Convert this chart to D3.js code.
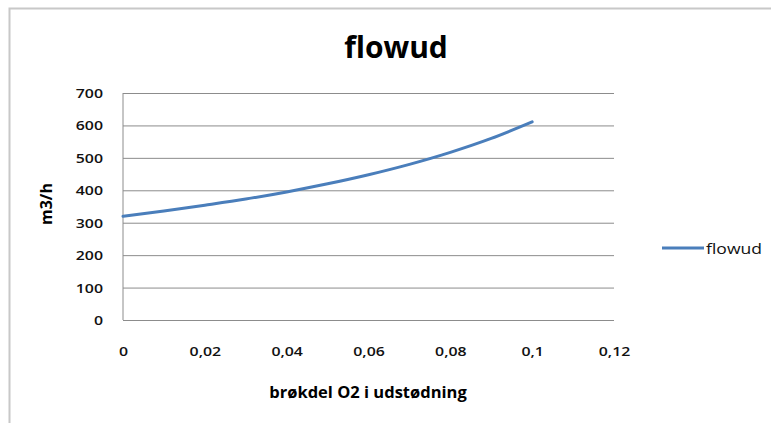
<!DOCTYPE html>
<html>
<head>
<meta charset="utf-8">
<script src="https://cdn.jsdelivr.net/npm/d3@7"></script>
<style>
  html, body { margin: 0; padding: 0; background: #fff; }
  svg { display: block; }
  text { font-family: "Open Sans", "Liberation Sans", sans-serif; }
</style>
</head>
<body>
<svg id="chart" width="771" height="423"></svg>
<script>
// ---- data ----
const chartTitle = "flowud";
const xAxisTitle = "brøkdel O2 i udstødning";
const yAxisTitle = "m3/h";
const seriesName = "flowud";
const xValues = [0, 0.01, 0.02, 0.03, 0.04, 0.05, 0.06, 0.07, 0.08, 0.09, 0.1];
const yValues = [320, 336, 354, 373, 395, 420, 448, 480, 517, 560, 611];
const xTicks = [0, 0.02, 0.04, 0.06, 0.08, 0.1, 0.12];
const yTicks = [0, 100, 200, 300, 400, 500, 600, 700];

// ---- layout ----
const W = 771, H = 423;
const plot = { left: 123, right: 614, top: 93, bottom: 320 };
const svg = d3.select("#chart");

// outer chart border
svg.append("rect")
  .attr("x", 9.5).attr("y", 8.5)
  .attr("width", W + 10).attr("height", H + 10)
  .attr("fill", "#fff").attr("stroke", "#c8c8c8").attr("stroke-width", 2);

const x = d3.scaleLinear().domain([0, 0.12]).range([plot.left, plot.right]);
const y = d3.scaleLinear().domain([0, 700]).range([plot.bottom, plot.top]);

// stretch helper: widen text horizontally like the reference
function stretch(sel, f) {
  sel.each(function () {
    const len = this.getComputedTextLength();
    d3.select(this).attr("textLength", len * f).attr("lengthAdjust", "spacingAndGlyphs");
  });
}

// gridlines
const yAxisG = svg.append("g")
  .attr("transform", `translate(${plot.left},0)`)
  .call(d3.axisLeft(y).tickValues(yTicks).tickSize(-(plot.right - plot.left)).tickPadding(20)
    .tickFormat(d => d));
yAxisG.select(".domain").remove();
yAxisG.selectAll(".tick line").attr("stroke", "#8c8c8c").attr("stroke-width", 1);
yAxisG.selectAll(".tick text")
  .attr("font-size", 13).attr("font-weight", 600).attr("fill", "#111").attr("dy", "0.35em");
stretch(yAxisG.selectAll(".tick text"), 1.22);

// left axis line
svg.append("line")
  .attr("x1", plot.left).attr("x2", plot.left)
  .attr("y1", plot.top).attr("y2", plot.bottom)
  .attr("stroke", "#8c8c8c").attr("stroke-width", 1);

// x axis labels (no tick marks)
const xAxisG = svg.append("g")
  .attr("transform", `translate(0,${plot.bottom})`)
  .call(d3.axisBottom(x).tickValues(xTicks).tickSize(0).tickPadding(27)
    .tickFormat(d => String(+d.toFixed(2)).replace(".", ",")));
xAxisG.select(".domain").remove();
xAxisG.selectAll(".tick text").attr("font-size", 13).attr("font-weight", 600).attr("fill", "#111");
stretch(xAxisG.selectAll(".tick text"), 1.22);

// series line
const line = d3.line()
  .x((d, i) => x(xValues[i]))
  .y(d => y(d))
  .curve(d3.curveMonotoneX);
svg.append("path")
  .datum(yValues)
  .attr("d", line)
  .attr("fill", "none")
  .attr("stroke", "#4a7ebb")
  .attr("stroke-width", 3)
  .attr("stroke-linecap", "round");

// title
svg.append("text")
  .attr("x", 396).attr("y", 58)
  .attr("text-anchor", "middle")
  .attr("font-size", 30).attr("font-weight", "bold").attr("fill", "#000")
  .text(chartTitle);

// x axis title
svg.append("text")
  .attr("x", 368).attr("y", 398)
  .attr("text-anchor", "middle")
  .attr("font-size", 16.5).attr("font-weight", "bold").attr("fill", "#000")
  .text(xAxisTitle);

// y axis title
svg.append("text")
  .attr("transform", "translate(52,204) rotate(-90)")
  .attr("text-anchor", "middle")
  .attr("font-size", 16).attr("font-weight", "bold").attr("fill", "#000")
  .text(yAxisTitle);

// legend
const lg = svg.append("g").attr("transform", "translate(662,248)");
lg.append("line").attr("x1", 0).attr("x2", 42).attr("y1", 0).attr("y2", 0)
  .attr("stroke", "#4a7ebb").attr("stroke-width", 3);
const lt = lg.append("text").attr("x", 44).attr("y", 5.5)
  .attr("font-size", 15).attr("fill", "#111").text(seriesName);
stretch(lt, 56 / lt.node().getComputedTextLength());
</script>
</body>
</html>
